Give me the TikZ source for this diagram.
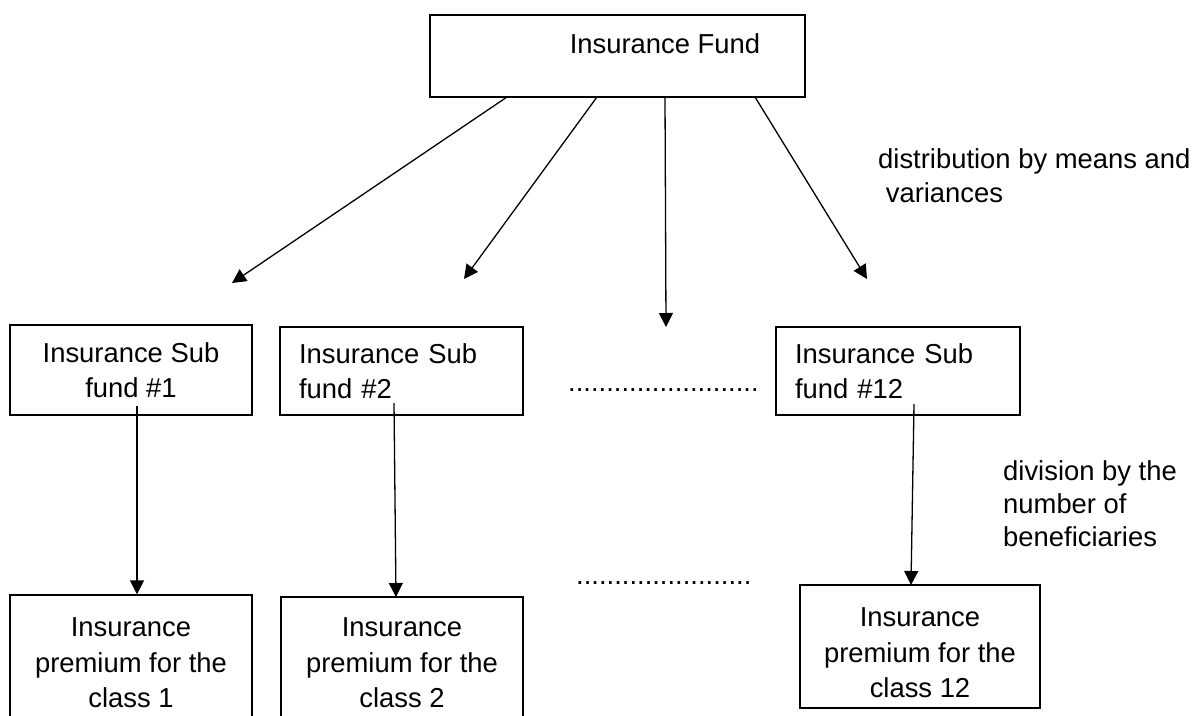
\documentclass[tikz,border=0pt]{standalone}
\usepackage{fontspec}
\setmainfont{Liberation Sans}
\usetikzlibrary{arrows.meta}
\tikzset{
  box/.style={draw, line width=1.3pt, rectangle, inner sep=0pt},
  txt/.style={font=\fontsize{27.4}{35.5}\selectfont, inner sep=0pt},
  conn/.style={line width=1.3pt, -{Triangle[length=14pt,width=14pt]}},
}
\begin{document}
\begin{tikzpicture}[x=1pt,y=-1pt]
\clip (0,0) rectangle (1193,715);
\fill[white] (0,0) rectangle (1193,715);
% top box
\node[box, minimum width=375pt, minimum height=82pt] (fund) at (617.5,56) {};
\node[txt, anchor=base] (fundtxt) at (665,53) {Insurance Fund};
% sub fund boxes
\node[box, txt, minimum width=242pt, minimum height=90pt, align=center] (sub1) at (131,370) {Insurance Sub\\fund \#1};
\node[box, txt, minimum width=243pt, minimum height=88pt, text width=205pt, align=left] (sub2) at (401.5,371) {Insurance Sub\\fund \#2};
\node[box, txt, minimum width=244pt, minimum height=88pt, text width=206pt, align=left] (sub12) at (898,371) {Insurance Sub\\fund \#12};
% premium boxes
\node[box, minimum width=242pt, minimum height=160pt] (prem1) at (131,675) {};
\node[txt, align=center] (prem1txt) at (131,663) {Insurance\\premium for the\\class 1};
\node[box, minimum width=242pt, minimum height=160pt] (prem2) at (402,677) {};
\node[txt, align=center] (prem2txt) at (402,663) {Insurance\\premium for the\\class 2};
\node[box, minimum width=240pt, minimum height=123pt] (prem12) at (920,646.5) {};
\node[txt, align=center] (prem12txt) at (920,653) {Insurance\\premium for the\\class 12};
% dotted text rows
\node[txt, anchor=base west] (dots1) at (568,391) {.........................};
\node[txt, anchor=base west] (dots2) at (576,584) {.......................};
% labels
\node[txt, anchor=base west] (lab1) at (878,168) {distribution by means and};
\node[txt, anchor=base west] (lab1b) at (878,202) {\ variances};
\node[txt, font=\fontsize{27.4}{33}\selectfont, anchor=north west, align=left] (lab2) at (1003,460) {division by the\\number of\\beneficiaries};
% fan arrows
\coordinate (f1) at (507,97);
\coordinate (f2) at (597,97);
\coordinate (f3) at (665,97);
\coordinate (f4) at (755,97);
\coordinate (t1) at (232,283);
\coordinate (t2) at (464,279);
\coordinate (t3) at (666,327);
\coordinate (t4) at (867,279);
\draw[conn] (f1) -- (t1);
\draw[conn] (f2) -- (t2);
\draw[conn] (f3) -- (t3);
\draw[conn] (f4) -- (t4);
% vertical arrows
\coordinate (s1) at (137,406);
\coordinate (s2) at (394,403);
\coordinate (s12) at (914,404);
\draw[conn] (s1) -- (s1 |- prem1.north);
\draw[conn] (s2) -- (396,597);
\draw[conn] (s12) -- (911,585);
\end{tikzpicture}
\end{document}
